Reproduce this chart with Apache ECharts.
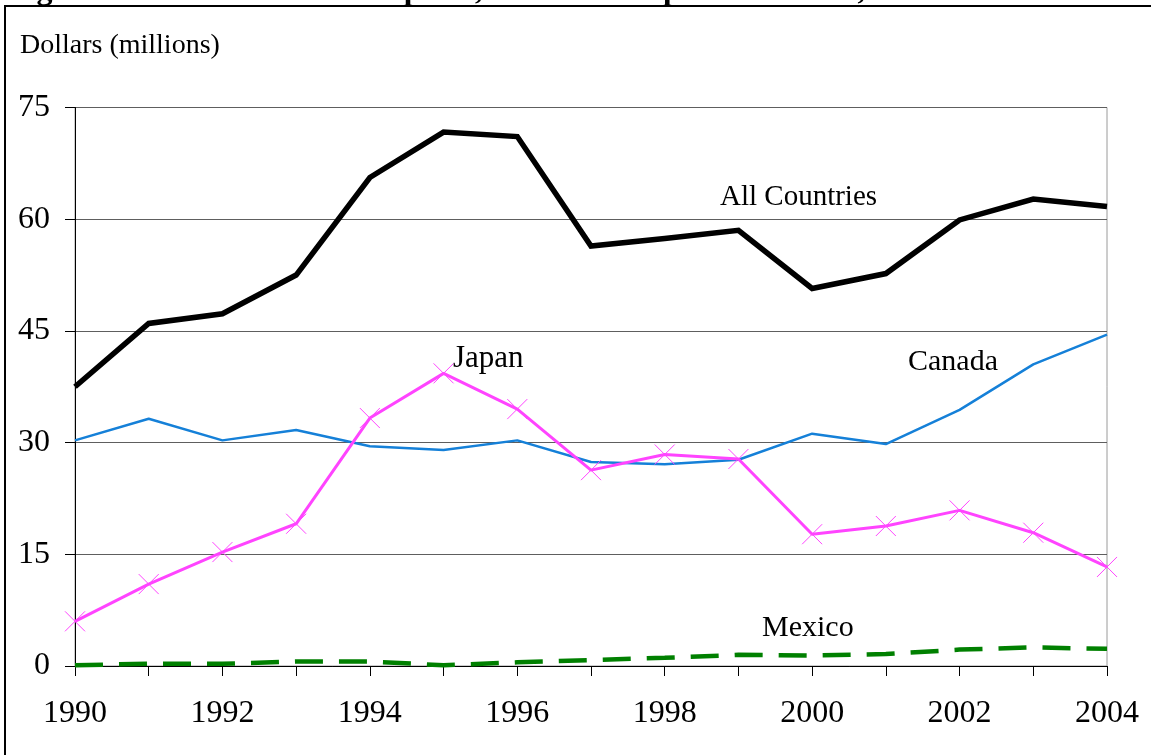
<!DOCTYPE html>
<html>
<head>
<meta charset="utf-8">
<script src="https://cdn.jsdelivr.net/npm/echarts@6/dist/echarts.min.js"></script>
<style>
html,body{margin:0;padding:0;background:#fff;}
#chart{width:1151px;height:755px;}
</style>
</head>
<body>
<div id="chart"></div>
<script>
var years = ['1990','1991','1992','1993','1994','1995','1996','1997','1998','1999','2000','2001','2002','2003','2004'];
var allCountries = [37.5, 46.0, 47.3, 52.5, 65.6, 71.7, 71.1, 56.4, 57.4, 58.5, 50.7, 52.7, 59.9, 62.7, 61.7];
var canada = [30.3, 33.2, 30.3, 31.7, 29.5, 29.0, 30.3, 27.4, 27.1, 27.7, 31.2, 29.8, 34.4, 40.5, 44.5];
var japan = [6.0, 11.0, 15.3, 19.1, 33.3, 39.3, 34.5, 26.3, 28.4, 27.8, 17.7, 18.8, 20.9, 17.9, 13.3];
var mexico = [0.1, 0.3, 0.3, 0.6, 0.6, 0.1, 0.5, 0.8, 1.1, 1.5, 1.4, 1.6, 2.2, 2.5, 2.3];
var yTicks = {min: 0, max: 75, interval: 15};

var FONT = '"Liberation Serif", "Times New Roman", serif';
var chart = echarts.init(document.getElementById('chart'), null, {renderer: 'canvas'});

chart.setOption({
  backgroundColor: '#ffffff',
  animation: false,
  grid: {left: 75, right: 44, top: 107.5, bottom: 89, show: true, borderColor: '#9a9a9a', borderWidth: 1, backgroundColor: 'transparent'},
  xAxis: {
    type: 'category',
    data: years,
    boundaryGap: false,
    axisLine: {show: true, lineStyle: {color: '#000', width: 1}},
    axisTick: {show: true, inside: false, length: 10, interval: 0, lineStyle: {color: '#000', width: 1}},
    axisLabel: {interval: 1, margin: 32, color: '#000', fontFamily: FONT, fontSize: 32},
    splitLine: {show: false}
  },
  yAxis: {
    type: 'value',
    min: yTicks.min, max: yTicks.max, interval: yTicks.interval,
    axisLine: {show: true, lineStyle: {color: '#000', width: 1}},
    axisTick: {show: true, inside: false, length: 10, lineStyle: {color: '#000', width: 1}},
    axisLabel: {margin: 25, color: '#000', fontFamily: FONT, fontSize: 32},
    splitLine: {show: true, lineStyle: {color: '#5e5e5e', width: 1}}
  },
  series: [
    {
      name: 'Mexico', type: 'line', data: mexico, symbol: 'none', z: 2,
      lineStyle: {color: '#008000', width: 4.5, type: [28, 16]}
    },
    {
      name: 'Canada', type: 'line', data: canada, symbol: 'none', z: 3,
      lineStyle: {color: '#1580d8', width: 2.5}
    },
    {
      name: 'Japan', type: 'line', data: japan, z: 4,
      symbol: 'path://M0,0L10,10M10,0L0,10', symbolSize: 20,
      itemStyle: {color: 'rgba(0,0,0,0)', borderColor: '#ff44ff', borderWidth: 1},
      lineStyle: {color: '#ff44ff', width: 3}
    },
    {
      name: 'All Countries', type: 'line', data: allCountries, symbol: 'none', z: 5,
      lineStyle: {color: '#000000', width: 5.5, join: 'miter'}
    }
  ],
  graphic: [
    {type: 'rect', z: 100, shape: {x: 5, y: 6, width: 1300, height: 900}, style: {fill: 'none', stroke: '#000', lineWidth: 2}},
    {type: 'text', z: 100, x: 8, y: -9, style: {text: 'Figure 1. U.S. Cut Flower Exports, Total and Top Destinations, 1990-2004', font: 'bold 32px ' + FONT, fill: '#000', textAlign: 'left', textVerticalAlign: 'middle'}},
    {type: 'text', z: 100, x: 20, y: 46, style: {text: 'Dollars (millions)', font: '28px ' + FONT, fill: '#000', textAlign: 'left', textVerticalAlign: 'middle'}},
    {type: 'text', z: 100, x: 720, y: 197, style: {text: 'All Countries', font: '29px ' + FONT, fill: '#000', textAlign: 'left', textVerticalAlign: 'middle'}},
    {type: 'text', z: 100, x: 453, y: 359, style: {text: 'Japan', font: '31px ' + FONT, fill: '#000', textAlign: 'left', textVerticalAlign: 'middle'}},
    {type: 'text', z: 100, x: 908, y: 362, style: {text: 'Canada', font: '30px ' + FONT, fill: '#000', textAlign: 'left', textVerticalAlign: 'middle'}},
    {type: 'text', z: 100, x: 762, y: 628, style: {text: 'Mexico', font: '30px ' + FONT, fill: '#000', textAlign: 'left', textVerticalAlign: 'middle'}}
  ]
});
</script>
</body>
</html>
